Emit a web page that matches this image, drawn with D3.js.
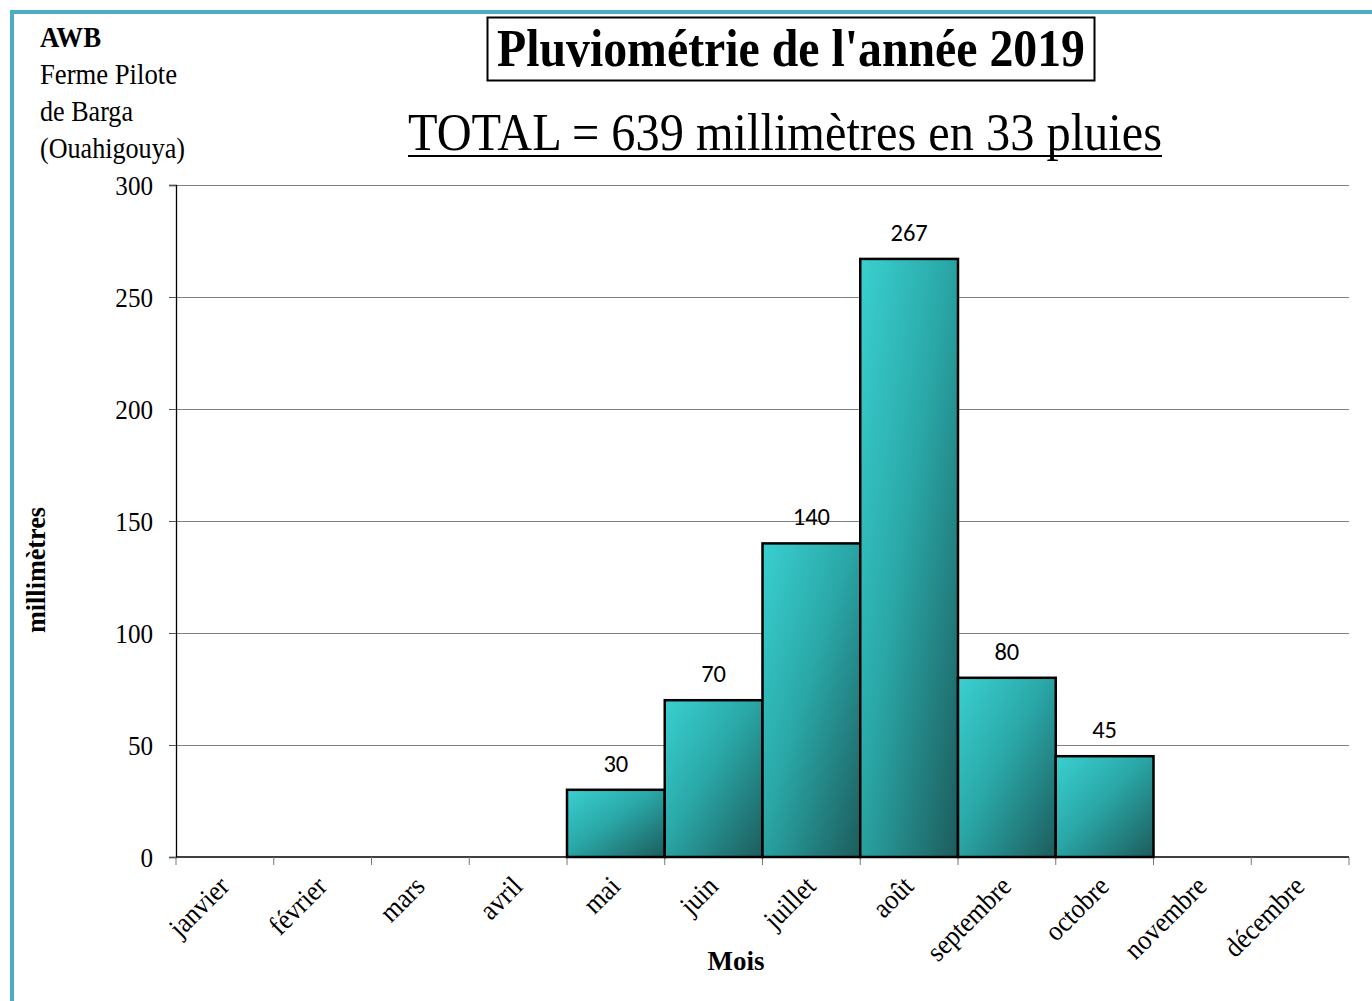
<!DOCTYPE html>
<html><head><meta charset="utf-8">
<script src="https://cdn.jsdelivr.net/npm/d3@7"></script>
<style>
html,body{margin:0;padding:0;background:#fff;}
svg{display:block;}
</style></head>
<body>
<svg id="chart" width="1372" height="1001"></svg>
<script>
const months = ["janvier","février","mars","avril","mai","juin","juillet","août","septembre","octobre","novembre","décembre"];
const rainfall = [null,null,null,null,30,70,140,267,80,45,null,null];
const yTicks = [0,50,100,150,200,250,300];
const title = "Pluviométrie de l'année 2019";
const subtitle = "TOTAL = 639 millimètres en 33 pluies";
const stationLines = ["AWB","Ferme Pilote","de Barga","(Ouahigouya)"];
const yLabel = "millimètres";
const xLabel = "Mois";

(function(){
const svg = d3.select("#chart");
const serif = "'Liberation Serif','Times New Roman',serif";
const sans = "Carlito,'Open Sans',Lato,sans-serif";

svg.append("rect").attr("x",10).attr("y",10).attr("width",1362).attr("height",4).attr("fill","#4aacc5");
svg.append("rect").attr("x",10).attr("y",10).attr("width",4).attr("height",991).attr("fill","#4aacc5");

const defs = svg.append("defs");
const grad = defs.append("linearGradient").attr("id","barGrad")
  .attr("x1","0%").attr("y1","0%").attr("x2","100%").attr("y2","100%");
grad.append("stop").attr("offset","0%").attr("stop-color","#3ad0d0");
grad.append("stop").attr("offset","45%").attr("stop-color","#2aa8a8");
grad.append("stop").attr("offset","100%").attr("stop-color","#1d5c5c");

const pL = 176, pR = 1349, pT = 185, pB = 857;
const x = d3.scaleBand().domain(months).range([pL,pR]).padding(0);
const y = d3.scaleLinear().domain([0,300]).range([pB,pT]);

svg.append("g").selectAll("line").data(yTicks.filter(d=>d>0)).join("line")
  .attr("x1",pL).attr("x2",pR).attr("y1",d=>y(d)).attr("y2",d=>y(d))
  .attr("stroke","#808080").attr("stroke-width",1).attr("shape-rendering","crispEdges");

const yAxis = svg.append("g").attr("transform",`translate(${pL},0)`)
  .call(d3.axisLeft(y).tickValues(yTicks).tickSize(7).tickPadding(15));
yAxis.select(".domain").attr("stroke","#000").attr("stroke-width",1.3);
yAxis.selectAll(".tick line").attr("stroke","#555");
yAxis.selectAll("text").attr("font-family",serif).attr("font-size",27).attr("fill","#000")
  .attr("dy","0.34em").attr("transform","scale(0.93,1)").attr("x",-23/0.93);

const xAxis = svg.append("g").attr("transform",`translate(0,${pB})`)
  .call(d3.axisBottom(x).tickSize(0).tickFormat(""));
xAxis.select(".domain").attr("stroke","#000").attr("stroke-width",1.5).attr("d",`M${pL},0H${pR}`);
svg.append("g").selectAll("line").data(d3.range(months.length+1)).join("line")
  .attr("x1",i=>pL+i*x.bandwidth()).attr("x2",i=>pL+i*x.bandwidth())
  .attr("y1",pB).attr("y2",pB+8).attr("stroke","#777").attr("stroke-width",1);

const data = months.map((m,i)=>({m, v:rainfall[i]})).filter(d=>d.v!=null);
svg.append("g").selectAll("rect").data(data).join("rect")
  .attr("x",d=>x(d.m)).attr("width",x.bandwidth())
  .attr("y",d=>y(d.v)).attr("height",d=>pB-y(d.v))
  .attr("fill","url(#barGrad)").attr("stroke","#000").attr("stroke-width",2.5);

svg.append("g").selectAll("text").data(data).join("text")
  .attr("x",d=>x(d.m)+x.bandwidth()/2).attr("y",d=>y(d.v)-18)
  .attr("text-anchor","middle").attr("font-family",sans).attr("font-size",24.5).attr("fill","#000")
  .text(d=>d.v);

svg.append("g").selectAll("text").data(months).join("text")
  .attr("transform",d=>`translate(${x(d)+x.bandwidth()/2+6},${pB+31}) rotate(-45) scale(0.92,1)`)
  .attr("text-anchor","end").attr("font-family",serif).attr("font-size",28).attr("fill","#000")
  .text(d=>d);

svg.append("text").attr("x",736).attr("y",970).attr("text-anchor","middle")
  .attr("font-family",serif).attr("font-weight","bold").attr("font-size",27).text(xLabel);
svg.append("text").attr("transform","translate(45,570) rotate(-90)").attr("text-anchor","middle")
  .attr("font-family",serif).attr("font-weight","bold").attr("font-size",27)
  .attr("textLength",126).attr("lengthAdjust","spacingAndGlyphs").text(yLabel);

svg.append("rect").attr("x",487.5).attr("y",17.5).attr("width",607).attr("height",63)
  .attr("fill","none").attr("stroke","#000").attr("stroke-width",2);
svg.append("text").attr("x",791).attr("y",66).attr("text-anchor","middle")
  .attr("font-family",serif).attr("font-weight","bold").attr("font-size",53)
  .attr("textLength",588).attr("lengthAdjust","spacingAndGlyphs").text(title);

svg.append("text").attr("x",785).attr("y",150).attr("text-anchor","middle")
  .attr("font-family",serif).attr("font-size",52)
  .attr("textLength",754).attr("lengthAdjust","spacingAndGlyphs").text(subtitle);
svg.append("line").attr("x1",408).attr("x2",1162).attr("y1",156).attr("y2",156)
  .attr("stroke","#000").attr("stroke-width",2);

svg.append("g").selectAll("text").data(stationLines).join("text")
  .attr("x",40).attr("y",(d,i)=>47+i*37)
  .attr("font-family",serif).attr("font-size",30)
  .attr("font-weight",(d,i)=>i===0?"bold":"normal")
  .attr("textLength",(d,i)=>[61,137,93,145][i]).attr("lengthAdjust","spacingAndGlyphs")
  .text(d=>d);
})();
</script>
</body></html>
